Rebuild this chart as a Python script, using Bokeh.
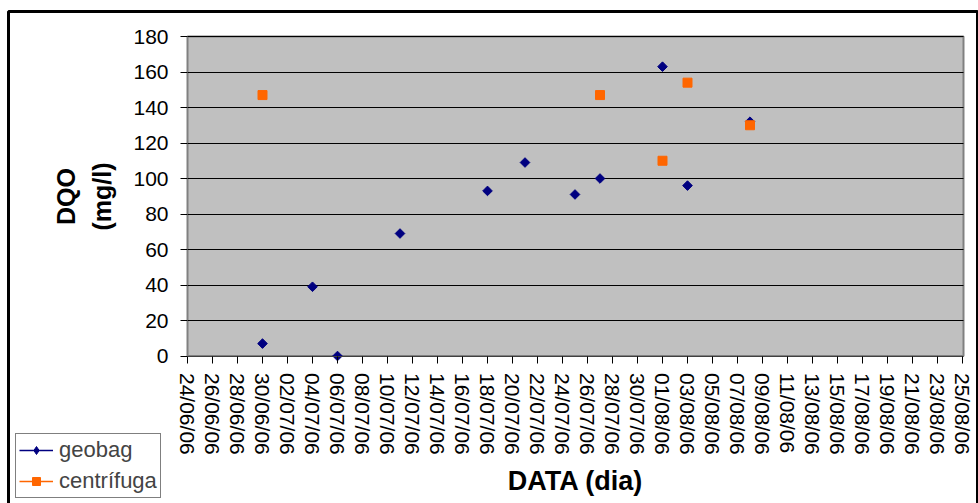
import math
import pandas as pd
from bokeh.plotting import figure
from bokeh.models import Range1d, FixedTicker, Legend, LegendItem, BoxAnnotation
from bokeh.embed import file_html
from bokeh.resources import INLINE

# ---- data ----
x_tick_labels = ["24/06/06", "26/06/06", "28/06/06", "30/06/06", "02/07/06", "04/07/06",
                 "06/07/06", "08/07/06", "10/07/06", "12/07/06", "14/07/06", "16/07/06",
                 "18/07/06", "20/07/06", "22/07/06", "24/07/06", "26/07/06", "28/07/06",
                 "30/07/06", "01/08/06", "03/08/06", "05/08/06", "07/08/06", "09/08/06",
                 "11/08/06", "13/08/06", "15/08/06", "17/08/06", "19/08/06", "21/08/06",
                 "23/08/06", "25/08/06"]
y_ticks = [0, 20, 40, 60, 80, 100, 120, 140, 160, 180]

geobag_dates = ["30/06/06", "04/07/06", "06/07/06", "11/07/06", "18/07/06", "21/07/06",
                "25/07/06", "27/07/06", "01/08/06", "03/08/06", "08/08/06"]
geobag_dqo = [7, 39, 0, 69, 93, 109, 91, 100, 163, 96, 132]

centr_dates = ["30/06/06", "27/07/06", "01/08/06", "03/08/06", "08/08/06"]
centr_dqo = [147, 147, 110, 154, 130]

FMT = "%d/%m/%y"
origin = pd.to_datetime(x_tick_labels[0], format=FMT)


def to_days(dates):
    return [int((pd.to_datetime(d, format=FMT) - origin).days) for d in dates]


tick_days = to_days(x_tick_labels)
geobag_x = to_days(geobag_dates)
centr_x = to_days(centr_dates)

FONT = "Liberation Sans"
W, H = 978, 503
# plot-area placement inside the canvas (pixels)
PA_LEFT, PA_RIGHT, PA_TOP, PA_BOTTOM = 187.0, 963.0, 36.0, 355.5
X_END = 62.08
Y_MIN, Y_MAX = 0, 180
sx = (PA_RIGHT - PA_LEFT) / X_END
sy = (PA_BOTTOM - PA_TOP) / (Y_MAX - Y_MIN)

p = figure(width=W, height=H, output_backend="svg", toolbar_location=None,
           x_range=Range1d(-PA_LEFT / sx, (W - PA_LEFT) / sx),
           y_range=Range1d(Y_MIN - (H - PA_BOTTOM) / sy, Y_MAX + PA_TOP / sy),
           min_border=0, min_border_left=0, min_border_right=0,
           min_border_top=0, min_border_bottom=0)
p.background_fill_color = "white"
p.border_fill_color = "white"
p.outline_line_color = None

# gray plot area
plot_area = BoxAnnotation(left=0, right=X_END, bottom=Y_MIN, top=Y_MAX,
                          fill_color="#C0C0C0", fill_alpha=1,
                          line_color="#808080", line_alpha=1, line_width=2, level="image")
p.add_layout(plot_area)

NAN = float("nan")
# geobag
gl = p.line(x=[NAN], y=[NAN], line_color="#000080", line_width=1.5)
g_leg = p.scatter(x=[NAN], y=[NAN], marker="diamond", size=11,
                  fill_color="#000080", line_color="#000080")
gs = p.scatter(x=geobag_x, y=geobag_dqo, marker="square", angle=math.pi / 4, size=6.8,
               fill_color="#000080", line_color="#000080")
# centrifuga
cl = p.line(x=[NAN], y=[NAN], line_color="#FF6600", line_width=1.5)
cs = p.scatter(x=centr_x, y=centr_dqo, marker="square", size=9,
               fill_color="#FF6600", line_color="#FF6600")

# axes, drawn at the edges of the plot area
p.xaxis.fixed_location = Y_MIN
p.yaxis.fixed_location = 0
p.xaxis.bounds = (0, X_END)
p.yaxis.bounds = (Y_MIN, Y_MAX)
p.xaxis.ticker = FixedTicker(ticks=tick_days)
p.xaxis.major_label_overrides = {d: lab for d, lab in zip(tick_days, x_tick_labels)}
p.xaxis.major_label_orientation = "vertical"
p.yaxis.ticker = FixedTicker(ticks=y_ticks)

for ax in (p.xaxis[0], p.yaxis[0]):
    ax.major_label_text_font = FONT
    ax.major_label_text_font_size = "21px"
    ax.major_label_text_color = "black"
    ax.axis_label_text_font = FONT
    ax.axis_label_text_font_style = "bold"
    ax.axis_label_text_color = "black"
    ax.major_tick_line_color = "black"
    ax.major_tick_out = 7
    ax.major_tick_in = 0
    ax.minor_tick_line_color = None

p.xaxis.axis_line_color = "#404040"
p.yaxis.axis_line_color = "#808080"
p.xaxis.axis_label = "DATA (dia)"
p.xaxis.axis_label_text_font_size = "27px"
p.xaxis.major_label_standoff = 10
p.xaxis.axis_label_standoff = 8
p.yaxis.axis_label = "DQO\n(mg/l)"
p.yaxis.axis_label_text_font_size = "25px"
p.yaxis.major_label_standoff = 12
p.yaxis.axis_label_standoff = 14
p.yaxis.axis_label_text_line_height = 1.3

# grid
p.xgrid.visible = False
p.ygrid.ticker = FixedTicker(ticks=y_ticks[1:])
p.ygrid.grid_line_color = "black"
p.ygrid.grid_line_width = 1
try:
    p.ygrid.cross_bounds = (0, X_END)
except AttributeError:
    p.ygrid.visible = False
    p.segment(x0=[0] * (len(y_ticks) - 1), x1=[X_END] * (len(y_ticks) - 1),
              y0=y_ticks[1:], y1=y_ticks[1:], line_color="black", line_width=1,
              level="underlay")

legend = Legend(items=[LegendItem(label="geobag", renderers=[gl, g_leg]),
                       LegendItem(label="centrífuga", renderers=[cl, cs])],
                location=(15, 5))
legend.border_line_color = "black"
legend.border_line_width = 1
legend.background_fill_color = "white"
legend.background_fill_alpha = 1
legend.label_text_font = FONT
legend.label_text_font_size = "22px"
legend.glyph_width = 34
legend.glyph_height = 20
legend.label_height = 20
legend.label_standoff = 6
legend.padding = 3
legend.spacing = 5
legend.margin = 0
p.add_layout(legend)

# outer chart border
outer = BoxAnnotation(left=8, right=977, top=11, bottom=530,
                      left_units="canvas", right_units="canvas",
                      top_units="canvas", bottom_units="canvas",
                      fill_alpha=0, line_color="black", line_alpha=1, line_width=3)
p.add_layout(outer)

open("out.html", "w").write(file_html(p, INLINE))
